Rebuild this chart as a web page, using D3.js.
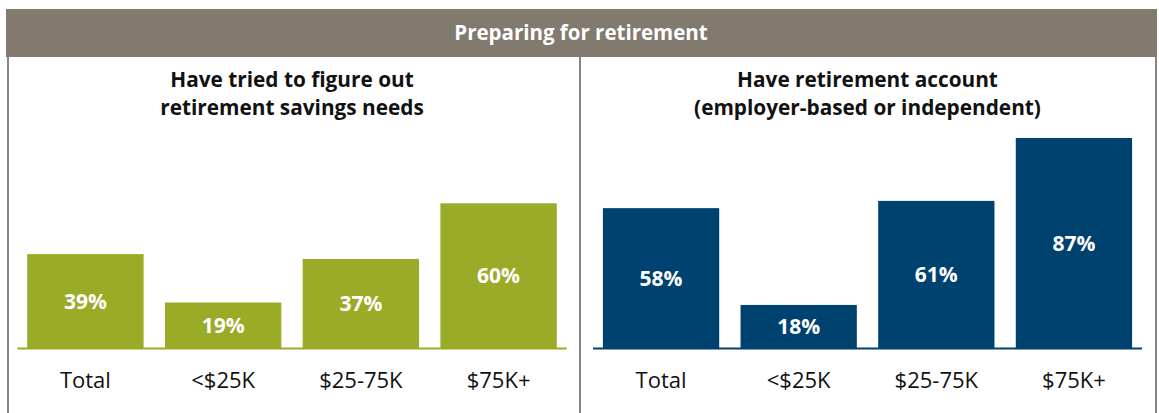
<!DOCTYPE html>
<html>
<head>
<meta charset="utf-8">
<script src="https://cdn.jsdelivr.net/npm/d3@7"></script>
<style>
  html, body { margin: 0; padding: 0; background: #fff; }
  svg { display: block; }
  text { font-family: "Open Sans", "Noto Sans", sans-serif; }
</style>
</head>
<body>
<svg id="chart" width="1159" height="413"></svg>
<script>
// ---- data ----
const headerTitle = "Preparing for retirement";
const categories = ["Total", "<$25K", "$25-75K", "$75K+"];
const figuredOutTitle = ["Have tried to figure out", "retirement savings needs"];
const figuredOutValues = [39, 19, 37, 60];
const accountTitle = ["Have retirement account", "(employer-based or independent)"];
const accountValues = [58, 18, 61, 87];

// ---- layout ----
const W = 1159, H = 413;
const svg = d3.select("#chart");
const greyC = "#82796f";
const borderC = "#8b837c";
const FONT = "'Open Sans', 'Noto Sans', sans-serif";

// header band
svg.append("rect").attr("x", 6).attr("y", 9).attr("width", 1151).attr("height", 48).attr("fill", greyC);
svg.append("text").attr("x", 581).attr("y", 33).attr("dy", "0.35em")
  .attr("text-anchor", "middle").attr("fill", "#fff")
  .attr("font-size", 20.5).attr("font-weight", 700).text(headerTitle);

// borders
[[7, 2], [579, 2], [1155, 2]].forEach(([x, w]) => {
  svg.append("rect").attr("x", x).attr("y", 57).attr("width", w).attr("height", H - 57).attr("fill", borderC);
});

const y = d3.scaleLinear().domain([0, 100]).range([348.5, 106.5]);

const panels = [
  { title: figuredOutTitle, values: figuredOutValues, color: "#9aab27", x0: 17.3, x1: 566.7 },
  { title: accountTitle, values: accountValues, color: "#00426f", x0: 593, x1: 1142 }
];

panels.forEach(p => {
  const g = svg.append("g");
  const x = d3.scaleBand().domain(categories).range([p.x0, p.x1])
    .paddingInner(0.155).paddingOuter(0.072);
  const cx = (p.x0 + p.x1) / 2;

  // subtitle
  p.title.forEach((t, i) => {
    g.append("text").attr("x", cx).attr("y", 80 + i * 28).attr("dy", "0.35em")
      .attr("text-anchor", "middle").attr("fill", "#111")
      .attr("font-size", 20.8).attr("font-weight", 700).text(t);
  });

  // bars
  g.selectAll("rect.bar").data(p.values).join("rect").attr("class", "bar")
    .attr("x", (d, i) => x(categories[i]))
    .attr("width", x.bandwidth())
    .attr("y", d => y(d))
    .attr("height", d => y(0) - y(d))
    .attr("fill", p.color);

  // baseline
  g.append("line").attr("x1", p.x0).attr("x2", p.x1)
    .attr("y1", y(0)).attr("y2", y(0))
    .attr("stroke", p.color).attr("stroke-width", 2.2);

  // value labels
  g.selectAll("text.val").data(p.values).join("text").attr("class", "val")
    .attr("x", (d, i) => x(categories[i]) + x.bandwidth() / 2)
    .attr("y", d => (y(d) + y(0)) / 2)
    .attr("dy", "0.35em").attr("text-anchor", "middle")
    .attr("fill", "#fff").attr("font-size", 21).attr("font-weight", 700)
    .text(d => d + "%");

  // category axis
  const axis = d3.axisBottom(x).tickSize(0).tickPadding(0);
  const ag = g.append("g").attr("transform", `translate(0, 380)`).call(axis);
  ag.select(".domain").remove();
  ag.selectAll("text").attr("dy", "0.35em").attr("y", 0)
    .attr("font-size", 22).attr("fill", "#111")
    .style("font-family", FONT);
});
</script>
</body>
</html>
